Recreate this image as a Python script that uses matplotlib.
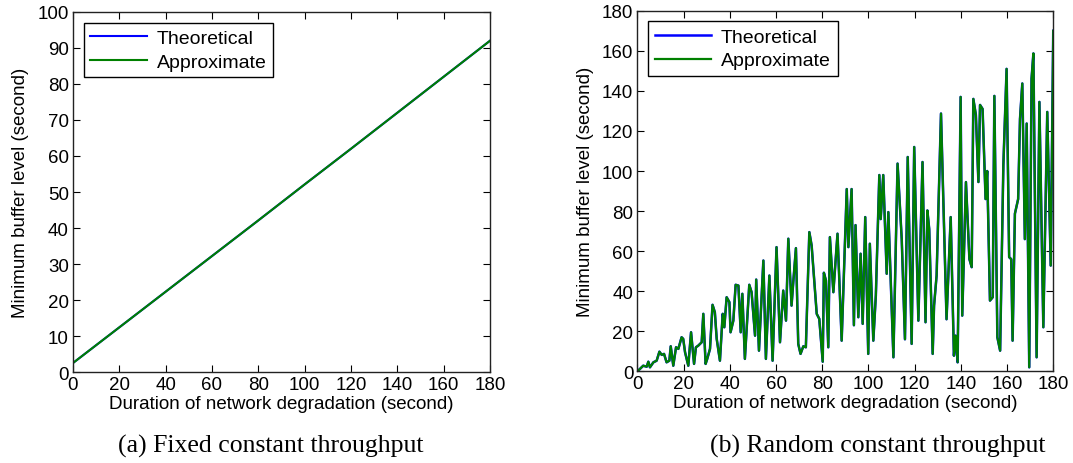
import matplotlib
matplotlib.use("Agg")
import matplotlib.pyplot as plt

# ---- (a) fixed constant throughput ----
fixed_duration = [0, 20, 40, 60, 80, 100, 120, 140, 160, 180]
fixed_theoretical = [2.5, 12.4, 22.3, 32.2, 42.1, 52.1, 62.0, 72.0, 82.0, 92.0]
fixed_approximate = [2.5, 12.4, 22.3, 32.2, 42.1, 52.1, 62.0, 72.0, 82.0, 92.0]

# ---- (b) random constant throughput ----
random_duration = [
    0.0, 2.5, 4.0, 4.7, 5.4, 6.9, 8.3, 9.5, 10.5, 11.5, 12.6, 13.8, 14.4, 15.5,
    16.7, 17.7, 19.1, 19.8, 20.6, 22.0, 23.2, 24.5, 25.3, 26.3, 27.1, 27.8, 28.5,
    29.5, 30.2, 31.4, 32.5, 33.5, 34.3, 35.7, 36.9, 37.6, 38.6, 39.8, 40.3, 41.5,
    42.5, 43.7, 44.7, 45.4, 46.5, 48.4, 49.4, 50.9, 51.4, 52.6, 54.5, 55.6, 57.1,
    58.5, 60.2, 61.7, 63.1, 64.3, 65.3, 66.7, 67.5, 68.6, 69.6, 70.6, 71.8, 72.9,
    74.4, 75.4, 77.6, 78.7, 80.2, 80.7, 81.6, 82.6, 83.3, 84.8, 86.6, 88.4,
    90.6, 91.3, 92.7, 93.7, 94.4, 95.6, 96.6, 97.5, 98.6, 99.9, 100.6, 102.1,
    103.2, 104.7, 105.3, 106.4, 107.9, 108.6, 110.8, 112.6, 114.4, 115.8, 117.0,
    118.7, 119.8, 121.6, 123.4, 124.7, 125.5, 126.3, 127.8, 128.4, 129.5, 131.4,
    133.8, 135.6, 137.0, 137.7, 138.6, 139.9, 140.6, 142.2, 143.7, 144.7, 145.4,
    146.5, 147.6, 148.3, 149.4, 150.7, 151.4, 152.6, 153.8, 154.5, 155.8, 157.0,
    158.4, 159.8, 160.9, 161.8, 162.4, 163.4, 164.8, 165.6, 166.6, 167.7, 168.5,
    169.6, 170.6, 171.4, 172.8, 174.0, 175.7, 177.4, 178.9, 180.0,
]
random_theoretical = [
    0.0, 2.8, 2.3, 4.8, 2.0, 4.5, 5.3, 9.8, 8.2, 8.7, 4.5, 5.3, 12.5, 2.8,
    12.0, 11.2, 17.0, 16.2, 9.5, 2.8, 19.5, 3.7, 12.0, 12.8, 13.7, 14.5, 28.7,
    3.7, 6.2, 11.2, 33.2, 29.5, 16.2, 5.3, 28.7, 22.0, 37.0, 34.5, 19.5, 25.3,
    43.2, 42.8, 19.5, 38.7, 6.2, 43.2, 39.5, 17.8, 45.8, 10.3, 55.3, 6.2, 47.8,
    5.3, 62.0, 14.5, 40.3, 25.3, 66.2, 32.8, 45.3, 61.5, 13.7, 8.7, 12.5, 12.0,
    69.5, 62.8, 28.7, 26.2, 4.8, 49.2, 45.3, 12.0, 67.0, 39.5, 68.7, 15.3,
    91.0, 62.0, 91.0, 23.0, 73.0, 27.0, 58.7, 23.7, 77.0, 8.7, 63.7, 15.3,
    38.0, 98.0, 76.0, 98.0, 48.7, 79.5, 7.0, 103.7, 66.0, 16.0, 107.0,
    13.7, 112.0, 25.3, 104.5, 24.5, 80.3, 71.0, 8.7, 32.8, 47.8, 128.7,
    26.0, 77.0, 7.8, 17.8, 4.5, 137.0, 27.8, 94.5, 56.0, 52.0, 136.0,
    128.0, 94.5, 133.0, 131.0, 86.0, 100.0, 35.3, 37.0, 137.5, 17.0, 10.3,
    103.0, 151.0, 57.0, 56.0, 15.3, 78.7, 86.0, 126.0, 143.7, 66.0, 123.7,
    2.0, 146.0, 158.7, 7.0, 134.5, 22.0, 129.5, 52.8, 170.0,
]
random_approximate = list(random_theoretical)

LABEL_FONT = ["Liberation Sans", "DejaVu Sans"]
CAPTION_FONT = ["Liberation Serif", "DejaVu Serif"]
BLUE = (0.0, 0.0, 1.0)
GREEN = (0.0, 0.5, 0.0)

fig = plt.figure(figsize=(10.73, 4.64), dpi=100)
ax_a = fig.add_axes([0.0680, 0.1961, 0.3886, 0.7759])
ax_b = fig.add_axes([0.5941, 0.1976, 0.3875, 0.7770])


def style(ax, ymax, ystep):
    ax.set_xlim(0, 180)
    ax.set_ylim(0, ymax)
    ax.set_xticks(range(0, 181, 20))
    ax.set_yticks(range(0, ymax + 1, ystep))
    ax.tick_params(direction="in", top=True, right=True, length=5, width=0.8,
                   labelsize=13.5, pad=3, colors="black")
    for lab in ax.get_xticklabels() + ax.get_yticklabels():
        lab.set_family(LABEL_FONT)
    for sp in ax.spines.values():
        sp.set_linewidth(1.0)
        sp.set_color("#222222")
    ax.set_xlabel("Duration of network degradation (second)", fontsize=13.5,
                  family=LABEL_FONT, labelpad=1)
    ax.set_ylabel("Minimum buffer level (second)", fontsize=13.5,
                  family=LABEL_FONT, labelpad=6)
    leg = ax.legend(loc="upper left", prop={"family": LABEL_FONT, "size": 14},
                    fancybox=False, framealpha=1, edgecolor="black",
                    handlelength=2.9, handletextpad=0.5, borderpad=0.35,
                    labelspacing=0.3, borderaxespad=0.55)
    leg.get_frame().set_linewidth(1.0)


ax_a.plot(fixed_duration, fixed_theoretical, color=BLUE, lw=1.5, label="Theoretical")
ax_a.plot(fixed_duration, fixed_approximate, color=GREEN, lw=1.5, label="Approximate")
style(ax_a, 100, 10)

ax_b.plot(random_duration, random_theoretical, color=BLUE, lw=1.8, label="Theoretical")
ax_b.plot(random_duration, random_approximate, color=GREEN, lw=1.6, label="Approximate")
style(ax_b, 180, 20)

fig.text(271 / 1073, 1 - 446 / 464, "(a) Fixed constant throughput",
         ha="center", va="center", fontsize=18.5, family=CAPTION_FONT)
fig.text(878 / 1073, 1 - 446 / 464, "(b) Random constant throughput",
         ha="center", va="center", fontsize=18.5, family=CAPTION_FONT)

fig.savefig("out.png", dpi=100)
